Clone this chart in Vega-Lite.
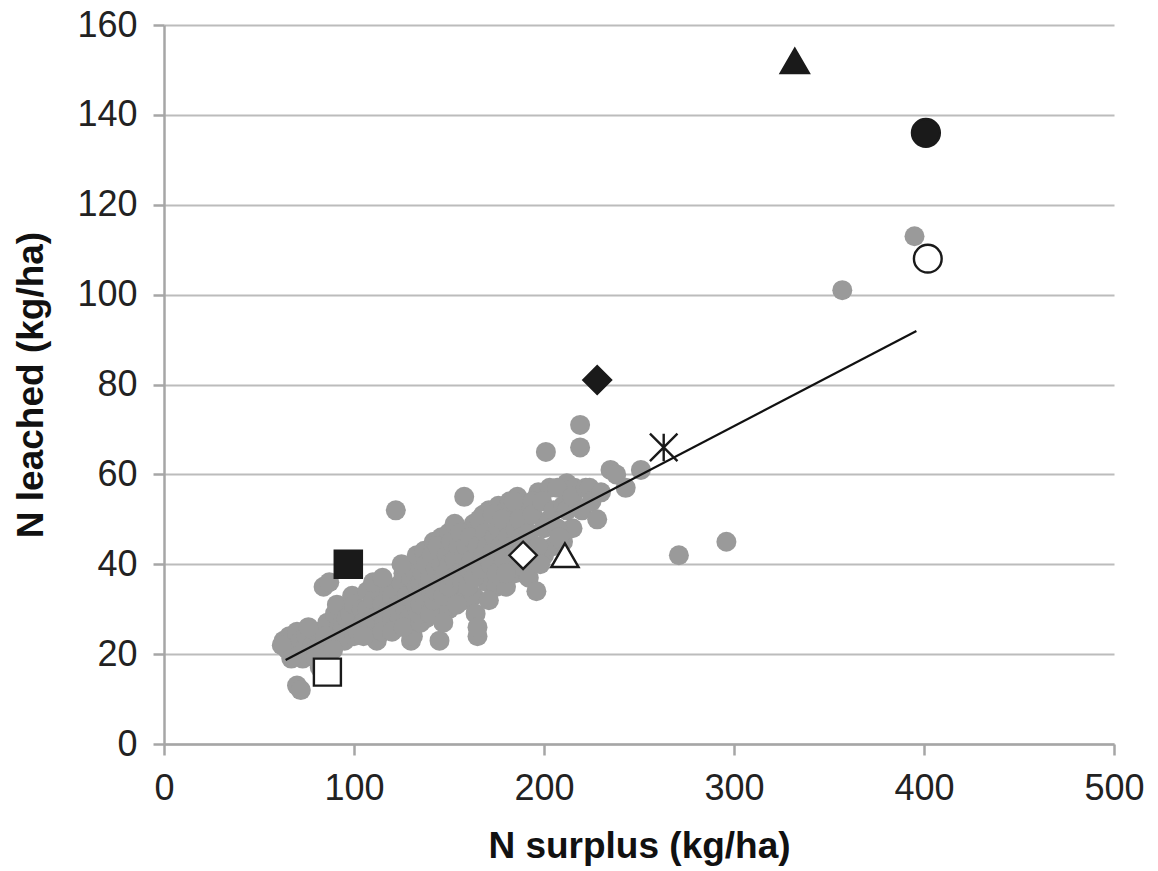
{
  "$schema": "https://vega.github.io/schema/vega-lite/v6.json",
  "width": 950,
  "height": 719,
  "autosize": {"type": "none"},
  "padding": {"left": 164, "top": 25, "right": 44, "bottom": 127},
  "background": "white",
  "datasets": {
    "plots": [
      {"surplus":63,"leached":23},{"surplus":65,"leached":21},{"surplus":66,"leached":24},{"surplus":68,"leached":22},{"surplus":70,"leached":25},{"surplus":70,"leached":20},{"surplus":72,"leached":23},{"surplus":74,"leached":21},{"surplus":75,"leached":24},{"surplus":73,"leached":19},{"surplus":70,"leached":13},{"surplus":72,"leached":12},{"surplus":78,"leached":22},{"surplus":80,"leached":25},{"surplus":82,"leached":17},{"surplus":84,"leached":35},{"surplus":86,"leached":27},{"surplus":87,"leached":36},{"surplus":88,"leached":24},{"surplus":90,"leached":29},{"surplus":91,"leached":31},{"surplus":92,"leached":26},{"surplus":94,"leached":26},{"surplus":95,"leached":23},{"surplus":96,"leached":28},{"surplus":98,"leached":29},{"surplus":99,"leached":33},{"surplus":100,"leached":24},{"surplus":102,"leached":25},{"surplus":100,"leached":31},
      {"surplus":62,"leached":22},{"surplus":67,"leached":19},{"surplus":76,"leached":26},{"surplus":80,"leached":21},{"surplus":85,"leached":24},{"surplus":89,"leached":21},{"surplus":84,"leached":18},{"surplus":80,"leached":19},
      {"surplus":104,"leached":30},{"surplus":105,"leached":27},{"surplus":107,"leached":30},{"surplus":107,"leached":34},{"surplus":108,"leached":26},{"surplus":110,"leached":32},{"surplus":110,"leached":28},{"surplus":112,"leached":23},{"surplus":113,"leached":34},{"surplus":114,"leached":29},{"surplus":115,"leached":31},{"surplus":116,"leached":27},{"surplus":118,"leached":30},{"surplus":118,"leached":35},{"surplus":120,"leached":28},{"surplus":120,"leached":33},{"surplus":122,"leached":26},{"surplus":122,"leached":52},{"surplus":123,"leached":31},{"surplus":124,"leached":28},{"surplus":125,"leached":36},{"surplus":126,"leached":38},{"surplus":127,"leached":30},{"surplus":128,"leached":33},{"surplus":129,"leached":28},{"surplus":130,"leached":37},{"surplus":130,"leached":23},{"surplus":131,"leached":24},{"surplus":131,"leached":39},
      {"surplus":110,"leached":36},{"surplus":115,"leached":37},{"surplus":125,"leached":40},{"surplus":133,"leached":42},{"surplus":137,"leached":43},{"surplus":142,"leached":45},{"surplus":146,"leached":46},{"surplus":150,"leached":47},{"surplus":153,"leached":49},{"surplus":163,"leached":49},{"surplus":168,"leached":51},{"surplus":171,"leached":52},{"surplus":176,"leached":53},{"surplus":180,"leached":52},{"surplus":186,"leached":55},{"surplus":190,"leached":53},{"surplus":197,"leached":56},{"surplus":203,"leached":57},{"surplus":212,"leached":58},{"surplus":216,"leached":57},
      {"surplus":105,"leached":24},{"surplus":115,"leached":25},{"surplus":120,"leached":25},{"surplus":126,"leached":26},{"surplus":135,"leached":27},{"surplus":138,"leached":28},{"surplus":143,"leached":29},{"surplus":150,"leached":30},{"surplus":153,"leached":33},{"surplus":158,"leached":32},{"surplus":163,"leached":33},{"surplus":170,"leached":36},{"surplus":175,"leached":35},{"surplus":180,"leached":35},{"surplus":185,"leached":38},{"surplus":190,"leached":39},{"surplus":192,"leached":37},{"surplus":200,"leached":42},{"surplus":205,"leached":44},{"surplus":210,"leached":45},{"surplus":215,"leached":48},
      {"surplus":132,"leached":31},{"surplus":133,"leached":35},{"surplus":134,"leached":29},{"surplus":135,"leached":36},{"surplus":135,"leached":31},{"surplus":136,"leached":38},{"surplus":137,"leached":33},{"surplus":138,"leached":40},{"surplus":139,"leached":35},{"surplus":140,"leached":29},{"surplus":140,"leached":37},{"surplus":141,"leached":42},{"surplus":142,"leached":32},{"surplus":143,"leached":34},{"surplus":143,"leached":39},{"surplus":144,"leached":44},{"surplus":145,"leached":36},{"surplus":145,"leached":23},{"surplus":146,"leached":40},{"surplus":147,"leached":27},{"surplus":147,"leached":33},{"surplus":148,"leached":38},{"surplus":149,"leached":42},{"surplus":150,"leached":40},{"surplus":150,"leached":35},{"surplus":151,"leached":45},{"surplus":152,"leached":37},{"surplus":153,"leached":41},{"surplus":154,"leached":31},{"surplus":155,"leached":44},{"surplus":155,"leached":38},{"surplus":156,"leached":47},{"surplus":157,"leached":36},{"surplus":158,"leached":55},{"surplus":158,"leached":42},{"surplus":159,"leached":44},{"surplus":160,"leached":35},{"surplus":160,"leached":39},
      {"surplus":161,"leached":46},{"surplus":162,"leached":41},{"surplus":163,"leached":37},{"surplus":164,"leached":29},{"surplus":165,"leached":24},{"surplus":165,"leached":26},{"surplus":165,"leached":44},{"surplus":166,"leached":50},{"surplus":167,"leached":39},{"surplus":168,"leached":42},{"surplus":169,"leached":47},{"surplus":170,"leached":44},{"surplus":171,"leached":32},{"surplus":172,"leached":40},{"surplus":173,"leached":51},{"surplus":173,"leached":43},{"surplus":174,"leached":46},{"surplus":175,"leached":38},{"surplus":176,"leached":48},{"surplus":177,"leached":44},{"surplus":178,"leached":50},{"surplus":179,"leached":41},{"surplus":180,"leached":38},{"surplus":181,"leached":46},{"surplus":182,"leached":54},{"surplus":183,"leached":44},{"surplus":184,"leached":54},{"surplus":185,"leached":48},{"surplus":186,"leached":42},{"surplus":187,"leached":50},{"surplus":188,"leached":46},{"surplus":190,"leached":44},{"surplus":192,"leached":47},{"surplus":194,"leached":54},{"surplus":194,"leached":51},{"surplus":196,"leached":34},{"surplus":197,"leached":44},{"surplus":198,"leached":40},{"surplus":199,"leached":54},{"surplus":200,"leached":48},
      {"surplus":201,"leached":65},{"surplus":203,"leached":50},{"surplus":205,"leached":52},{"surplus":207,"leached":57},{"surplus":207,"leached":48},{"surplus":208,"leached":46},{"surplus":210,"leached":53},{"surplus":212,"leached":52},{"surplus":215,"leached":55},{"surplus":219,"leached":71},{"surplus":219,"leached":66},{"surplus":220,"leached":52},{"surplus":222,"leached":57},{"surplus":224,"leached":57},{"surplus":225,"leached":54},{"surplus":228,"leached":50},{"surplus":230,"leached":56},{"surplus":235,"leached":61},{"surplus":238,"leached":60},{"surplus":243,"leached":57},{"surplus":251,"leached":61},
      {"surplus":271,"leached":42},{"surplus":296,"leached":45},{"surplus":357,"leached":101},{"surplus":395,"leached":113}
    ],
    "trend": [
      {"surplus":64,"leached":18.7},
      {"surplus":396,"leached":91.9}
    ],
    "sites": [
      {"surplus":332,"leached":152,"site":"A"},
      {"surplus":401,"leached":136,"site":"B"},
      {"surplus":402,"leached":108,"site":"C"},
      {"surplus":228,"leached":81,"site":"D"},
      {"surplus":263,"leached":66,"site":"E"},
      {"surplus":189,"leached":42,"site":"F"},
      {"surplus":211,"leached":42,"site":"G"},
      {"surplus":97,"leached":40,"site":"H"},
      {"surplus":86,"leached":16,"site":"I"}
    ]
  },
  "encoding": {
    "x": {
      "field": "surplus", "type": "quantitative",
      "scale": {"domain": [0, 500], "nice": false},
      "axis": {
        "title": "N surplus (kg/ha)",
        "values": [0, 100, 200, 300, 400, 500],
        "grid": false,
        "tickSize": 11,
        "labelPadding": 16,
        "titlePadding": 22,
        "labelFlush": false
      }
    },
    "y": {
      "field": "leached", "type": "quantitative",
      "scale": {"domain": [0, 160], "nice": false},
      "axis": {
        "title": "N leached (kg/ha)",
        "values": [0, 20, 40, 60, 80, 100, 120, 140, 160],
        "grid": true,
        "tickSize": 11,
        "labelPadding": 16,
        "titlePadding": 26
      }
    }
  },
  "layer": [
    {
      "data": {"name": "plots"},
      "mark": {"type": "circle", "color": "#9a9a9a", "opacity": 1, "size": 400}
    },
    {
      "data": {"name": "trend"},
      "mark": {"type": "line", "color": "#111111", "strokeWidth": 2.2}
    },
    {
      "data": {"name": "sites"},
      "mark": {"type": "point", "filled": true, "opacity": 1, "stroke": "#1a1a1a", "strokeWidth": 2.4},
      "encoding": {
        "shape": {
          "field": "site", "type": "nominal", "legend": null,
          "scale": {
            "domain": ["A","B","C","D","E","F","G","H","I"],
            "range": ["triangle-up","circle","circle","diamond","M-1,-1L1,1M-1,1L1,-1M0,-1L0,1","diamond","triangle-up","square","square"]
          }
        },
        "fill": {
          "field": "site", "type": "nominal", "legend": null,
          "scale": {
            "domain": ["A","B","C","D","E","F","G","H","I"],
            "range": ["#1a1a1a","#1a1a1a","#ffffff","#1a1a1a","#ffffff","#ffffff","#ffffff","#1a1a1a","#ffffff"]
          }
        },
        "size": {
          "field": "site", "type": "nominal", "legend": null,
          "scale": {
            "domain": ["A","B","C","D","E","F","G","H","I"],
            "range": [784, 729, 640, 560, 676, 600, 560, 676, 640]
          }
        }
      }
    }
  ],
  "config": {
    "view": {"stroke": null},
    "axis": {
      "domainColor": "#a6a6a6",
      "domainWidth": 2.5,
      "tickColor": "#a6a6a6",
      "tickWidth": 2.5,
      "gridColor": "#bcbcbc",
      "gridWidth": 2,
      "labelFont": "Liberation Sans",
      "labelFontSize": 36,
      "labelColor": "#222222",
      "titleFont": "Liberation Sans",
      "titleFontSize": 37,
      "titleFontWeight": "bold",
      "titleColor": "#111111"
    }
  }
}
